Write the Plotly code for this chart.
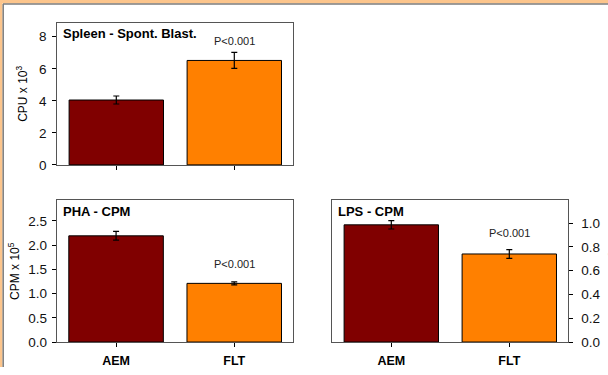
import plotly.graph_objects as go

W, H = 608, 375

groups = ["AEM", "FLT"]
colors = ["#800000", "#FF8000"]

spleen_vals = [4.05, 6.52]
spleen_err = [0.25, 0.5]

pha_vals = [2.19, 1.21]
pha_err = [0.09, 0.03]

lps_vals = [0.985, 0.74]
lps_err = [0.035, 0.037]

p_label = "P<0.001"

FONT = "Liberation Sans, Arial, sans-serif"

fig = go.Figure()

def px_x(p):
    return p / W

def px_y(p):
    return 1 - p / H

def add_bars(vals, errs, xa, ya):
    fig.add_trace(go.Bar(
        x=groups, y=vals,
        marker=dict(color=colors, line=dict(color="black", width=1)),
        error_y=dict(type="data", array=errs, color="black", thickness=1.2, width=3),
        width=0.8, xaxis=xa, yaxis=ya, showlegend=False,
    ))

add_bars(spleen_vals, spleen_err, "x", "y")
add_bars(pha_vals, pha_err, "x2", "y2")
add_bars(lps_vals, lps_err, "x3", "y3")

axis_common = dict(showline=True, mirror=True, linecolor="#555555", linewidth=1.3,
                   ticks="outside", ticklen=4, tickcolor="black", showgrid=False,
                   zeroline=False, tickfont=dict(family=FONT, size=13.5, color="#111"))

xcat = dict(tickvals=groups, ticktext=["<b>AEM</b>", "<b>FLT</b>"])

fig.update_layout(
    width=W, height=H,
    margin=dict(l=0, r=0, t=0, b=0),
    paper_bgcolor="white", plot_bgcolor="white",
    bargap=0.2,
    font=dict(family=FONT, color="black"),
    xaxis=dict(domain=[px_x(57.3), px_x(293.3)], anchor="y", showticklabels=False, **axis_common),
    yaxis=dict(domain=[px_y(168.5), px_y(23.3)], anchor="x", range=[0, 8.87],
               tickvals=[0, 2, 4, 6, 8], ticklabelstandoff=3,
               title=dict(text="CPU x 10<sup>3</sup>", font=dict(family=FONT, size=12), standoff=8),
               **axis_common),
    xaxis2=dict(domain=[px_x(57.0), px_x(293.3)], anchor="y2", ticklabelstandoff=3, **xcat,
                **{**axis_common, "tickfont": dict(family=FONT, size=12.5, color="black")}),
    yaxis2=dict(domain=[px_y(349.5), px_y(204.8)], anchor="x2", range=[0, 2.92],
                tickvals=[0, 0.5, 1.0, 1.5, 2.0, 2.5], tickformat=".1f", ticklabelstandoff=2,
                title=dict(text="CPM x 10<sup>5</sup>", font=dict(family=FONT, size=12), standoff=6),
                **axis_common),
    xaxis3=dict(domain=[px_x(332.3), px_x(568.3)], anchor="y3", ticklabelstandoff=3, **xcat,
                **{**axis_common, "tickfont": dict(family=FONT, size=12.5, color="black")}),
    yaxis3=dict(domain=[px_y(349.5), px_y(204.8)], anchor="x3", range=[0, 1.19], side="right",
                tickvals=[0, 0.2, 0.4, 0.6, 0.8, 1.0], tickformat=".1f", ticklabelstandoff=5,
                **axis_common),
)

ann = []
def panel_title(text, xref, yref):
    ann.append(dict(text="<b>" + text + "</b>", xref=xref + " domain", yref=yref + " domain",
                    x=0.015, y=0.99, xanchor="left", yanchor="top", showarrow=False,
                    font=dict(family=FONT, size=13, color="black")))

panel_title("Spleen - Spont. Blast.", "x", "y")
panel_title("PHA - CPM", "x2", "y2")
panel_title("LPS - CPM", "x3", "y3")

ann.append(dict(text=p_label, x="FLT", y=7.75, xref="x", yref="y", showarrow=False,
                font=dict(family=FONT, size=11, color="#222")))
ann.append(dict(text=p_label, x="FLT", y=1.6, xref="x2", yref="y2", showarrow=False,
                font=dict(family=FONT, size=11, color="#222")))
ann.append(dict(text=p_label, x="FLT", y=0.92, xref="x3", yref="y3", showarrow=False,
                font=dict(family=FONT, size=11, color="#222")))

# clipped right-axis title (faint), as in the reference
ann.append(dict(text="CPM x 10<sup>6</sup>", x=px_x(613), y=px_y(285), xref="paper", yref="paper",
                textangle=-90, showarrow=False, xanchor="center", yanchor="middle",
                font=dict(family=FONT, size=11, color="#bbbbbb")))

fig.update_layout(annotations=ann)

# outer frame (peach border with grey inner line)
shapes = [
    dict(type="rect", xref="paper", yref="paper", x0=0, x1=1, y0=px_y(3.5), y1=1,
         fillcolor="#FCC58C", line=dict(width=0), layer="above"),
    dict(type="rect", xref="paper", yref="paper", x0=0, x1=px_x(2.5), y0=0, y1=1,
         fillcolor="#FCC58C", line=dict(width=0), layer="above"),
    dict(type="line", xref="paper", yref="paper", x0=px_x(3), x1=1, y0=px_y(4), y1=px_y(4),
         line=dict(color="#7d7d7d", width=1.5), layer="above"),
    dict(type="line", xref="paper", yref="paper", x0=px_x(3.2), x1=px_x(3.2), y0=0, y1=px_y(4),
         line=dict(color="#7d7d7d", width=1.5), layer="above"),
]
fig.update_layout(shapes=shapes)

fig.write_html("out.html")
